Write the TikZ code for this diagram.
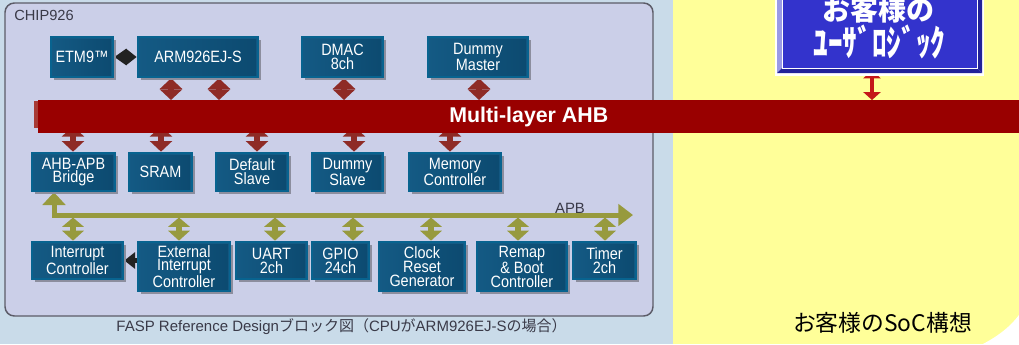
\documentclass[tikz,border=0pt]{standalone}
\usepackage{fontspec}
\setmainfont{Liberation Sans}
\newfontfamily\boxfont{Liberation Sans}[FakeStretch=0.88]
\newfontfamily\jp{Noto Sans CJK JP}
\usetikzlibrary{arrows.meta,shadows}
\definecolor{bgblue}{HTML}{C9DBE9}
\definecolor{chipfill}{HTML}{CBCFE8}
\definecolor{chipline}{HTML}{5C5C68}
\definecolor{yel}{HTML}{FFFF99}
\definecolor{boxrim}{HTML}{08638F}
\definecolor{boxinA}{HTML}{145A84}
\definecolor{boxinB}{HTML}{0C4A70}
\definecolor{shadowgray}{HTML}{8C8E9E}
\definecolor{ahbred}{HTML}{990000}
\definecolor{ahbedge}{HTML}{A83A35}
\definecolor{arrred}{HTML}{8E2B26}
\definecolor{olive}{HTML}{979A3E}
\definecolor{arrblack}{HTML}{222222}
\definecolor{custblue}{HTML}{3333CC}
\definecolor{bevlight}{HTML}{9A9AE6}
\definecolor{bevdark}{HTML}{222299}
\definecolor{custarr}{HTML}{C41818}
\definecolor{labgray}{HTML}{3A3A48}
\pgfdeclarelayer{back}
\pgfdeclarelayer{mid}
\pgfsetlayers{back,mid,main}
\newcommand\blkbox[6]{\node[blk,minimum width=#4*0.75pt,minimum height=#5*0.75pt] (#1) at (#2,#3) {#6};}
\begin{document}
\begin{tikzpicture}[x=0.75pt,y=-0.75pt,
  blk/.style={draw=boxrim, line width=2pt, fill=boxinA, text=white,
    font=\boxfont\fontsize{12.3}{10.4}\selectfont, align=center, inner sep=0pt,
    drop shadow={shadow xshift=2.6pt, shadow yshift=-2.6pt, fill=shadowgray, opacity=1},
    path picture={\fill[left color=boxinA, right color=boxinB]
      ([shift={(1.5pt,-1.5pt)}]path picture bounding box.north west) rectangle
      ([shift={(-1.5pt,1.5pt)}]path picture bounding box.south east);}},
  redarr/.style={draw=arrred, line width=4.5pt, {Triangle[width=16.5pt,length=8pt]}-{Triangle[width=16.5pt,length=8pt]}},
  olarr/.style={draw=olive, line width=4.2pt, {Triangle[width=16pt,length=7pt]}-{Triangle[width=16pt,length=7.5pt]}},
  apbline/.style={draw=olive, line width=3.75pt, line join=miter, {Triangle[width=17pt,length=9.5pt]}-{Triangle[width=16pt,length=11pt]}},
  blkarr/.style={draw=arrblack, line width=3.8pt, -{Triangle[width=12pt,length=8pt]}},
  blkdarr/.style={draw=arrblack, line width=3.8pt, {Triangle[width=12pt,length=9pt]}-{Triangle[width=12pt,length=8pt]}},
  custarrow/.style={draw=custarr, line width=3.4pt, {Triangle[width=13pt,length=6pt]}-{Triangle[width=13pt,length=6pt]}},
  lab/.style={text=labgray, font=\fontsize{11}{13}\selectfont, inner sep=0pt}
]
\useasboundingbox (0,0) rectangle (1019,344);
\clip (0,0) rectangle (1019,344);
% backgrounds
\begin{pgfonlayer}{back}
\fill[bgblue] (0,0) rectangle (1019,344);
\fill[yel] (673,0) rectangle (1019,344);
\fill[white] (983,344) .. controls (998,336) and (1010,327) .. (1019,315) -- (1019,344) -- cycle;
\draw[chipline, fill=chipfill, line width=1.1pt, rounded corners=7pt] (5,3) rectangle (653,316);
\end{pgfonlayer}
\node[lab, anchor=west] (chiplab) at (14,15) {CHIP926};
% top row
\blkbox{etm}{82}{57}{62}{40}{ETM9™}
\blkbox{arm}{198}{57}{120}{40}{ARM926EJ-S}
\blkbox{dmac}{342.5}{57}{81}{40}{DMAC\\8ch}
\blkbox{dmaster}{478}{57}{100}{40}{Dummy\\Master}
% slaves
\blkbox{bridge}{73.5}{172}{83}{38}{AHB-APB\\Bridge}
\blkbox{sram}{160.5}{172}{63}{38}{SRAM}
\blkbox{dslave}{252}{172}{72}{38}{Default\\Slave}
\blkbox{dumslave}{347.5}{172}{71}{38}{Dummy\\Slave}
\blkbox{memctrl}{455}{172}{92}{38}{Memory\\Controller}
% bottom row
\blkbox{intc}{77.5}{260.5}{91}{37}{Interrupt\\Controller}
\blkbox{extint}{184}{266.5}{92}{49}{External\\Interrupt\\Controller}
\blkbox{uart}{271.5}{260.5}{71}{37}{UART\\2ch}
\blkbox{gpio}{340.5}{260.5}{57}{37}{GPIO\\24ch}
\blkbox{clk}{422}{266.5}{86}{49}{Clock\\Reset\\Generator}
\blkbox{remap}{522}{266.5}{90}{49}{Remap\\\& Boot\\Controller}
\blkbox{timer}{604.5}{260.5}{63}{37}{Timer\\2ch}
% AHB bus
\fill[ahbedge] (34,101) rectangle (38,128);
\node[fill=ahbred, inner sep=0pt, anchor=north west, minimum width=981*0.75pt, minimum height=33*0.75pt,
  text=white, font=\bfseries\fontsize{16}{16}\selectfont] (ahb) at (38,100) {\raisebox{-1.5pt}{Multi-layer AHB}};
% customer logic box
\fill[white] (775,-10) rectangle (984,76);
\fill[bevlight] (777,-10) -- (782,-10) -- (782,68) -- (777,73) -- cycle;
\fill[bevdark] (777,73) -- (782,68) -- (977,68) -- (982,73) -- cycle;
\fill[bevdark] (982,-10) -- (977,-10) -- (977,68) -- (982,73) -- cycle;
\node[fill=custblue, draw=white, line width=0.6pt, inner sep=0pt, minimum width=195*0.75pt, minimum height=78*0.75pt] (cust) at (879.5,29) {};
\node[anchor=base, text=white, inner sep=0pt, font=\jp\bfseries\fontsize{21}{21}\selectfont] (custA) at (878.5,20) {お客様の};
\node[anchor=base, text=white, inner sep=0pt, font=\jp\bfseries\fontsize{22}{22}\selectfont] (custB) at (879.5,56) {\scalebox{1}[1.25]{ﾕｰｻﾞﾛｼﾞｯｸ}};
% APB
\coordinate (apbL) at (54,215);
\coordinate (apbR) at (633,215);
\node[lab, font=\fontsize{11.2}{13}\selectfont] (apblab) at (570,208) {APB};
% captions
\node[lab, font=\fontsize{11.25}{13}\selectfont] (caption) at (341.5,327) {FASP Reference Design{\jp ブロック図（}CPU{\jp が}ARM926EJ-S{\jp の場合）}};
\node[inner sep=0pt, text=black, font=\jp\fontsize{17.1}{19}\selectfont] (soc) at (882.5,323) {お客様のSoC構想};
% arrow x positions
\coordinate (r1) at (171,0); \coordinate (r2) at (219,0);
\coordinate (r3) at (344,0); \coordinate (r4) at (479,0);
\coordinate (s1) at (73,126); \coordinate (s2) at (161,126);
\coordinate (s3) at (257,126); \coordinate (s4) at (354,126);
\coordinate (s5) at (450,126);
\coordinate (o1) at (73,217.5); \coordinate (o2) at (179,217.5);
\coordinate (o3) at (275,217.5); \coordinate (o4) at (353,217.5);
\coordinate (o5) at (431,217.5); \coordinate (o6) at (518,217.5);
\coordinate (o7) at (605,217.5);
\coordinate (cx) at (872,0);
\begin{pgfonlayer}{mid}
\draw[redarr] (arm.south -| r1) -- (ahb.north -| r1);
\draw[redarr] (arm.south -| r2) -- (ahb.north -| r2);
\draw[redarr] (dmac.south -| r3) -- (ahb.north -| r3);
\draw[redarr] (dmaster.south -| r4) -- (ahb.north -| r4);
\draw[redarr] (s1) -- (s1 |- bridge.north);
\draw[redarr] (s2) -- (s2 |- sram.north);
\draw[redarr] (s3) -- (s3 |- dslave.north);
\draw[redarr] (s4) -- (s4 |- dumslave.north);
\draw[redarr] (s5) -- (s5 |- memctrl.north);
\draw[custarrow] ([yshift=-1.5pt]cust.south -| cx) -- (ahb.north -| cx);
\draw[apbline] (bridge.south -| apbL) -- (apbL) -- (apbR);
\draw[olarr] (o1) -- (o1 |- intc.north);
\draw[olarr] (o2) -- (o2 |- extint.north);
\draw[olarr] (o3) -- (o3 |- uart.north);
\draw[olarr] (o4) -- (o4 |- gpio.north);
\draw[olarr] (o5) -- (o5 |- clk.north);
\draw[olarr] (o6) -- (o6 |- remap.north);
\draw[olarr] (o7) -- (o7 |- timer.north);
\draw[blkdarr] (etm.east) -- (arm.west);
\draw[blkarr] (extint.west |- intc.east) -- (intc.east);
\end{pgfonlayer}
\end{tikzpicture}
\end{document}
